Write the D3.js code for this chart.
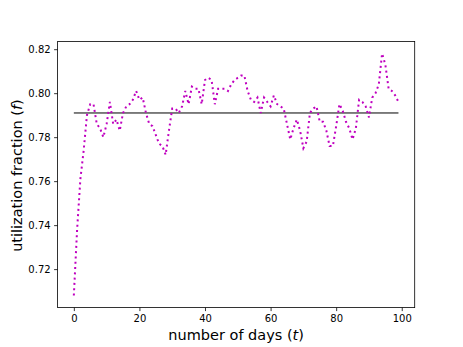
<!DOCTYPE html>
<html>
<head>
<meta charset="utf-8">
<script src="https://cdn.jsdelivr.net/npm/d3@7"></script>
<style>
  body { margin: 0; background: #fff; }
  text { font-family: "DejaVu Sans", sans-serif; fill: #000; }
</style>
</head>
<body>
<div id="chart"></div>
<script>
//data
var days = d3.range(0, 100);
var utilization = [
  0.708, 0.738, 0.761, 0.774, 0.790, 0.795, 0.795, 0.786, 0.784, 0.780,
  0.786, 0.796, 0.786, 0.788, 0.783, 0.791, 0.794, 0.795, 0.797, 0.801,
  0.797, 0.798, 0.791, 0.786, 0.785, 0.781, 0.777, 0.776, 0.772, 0.783,
  0.793, 0.793, 0.791, 0.794, 0.801, 0.795, 0.803, 0.802, 0.802, 0.795,
  0.806, 0.807, 0.806, 0.795, 0.802, 0.802, 0.802, 0.801, 0.804, 0.806,
  0.807, 0.808, 0.808, 0.801, 0.797, 0.796, 0.798, 0.791, 0.798, 0.796,
  0.794, 0.799, 0.795, 0.794, 0.793, 0.786, 0.779, 0.784, 0.788, 0.783,
  0.775, 0.778, 0.791, 0.793, 0.794, 0.787, 0.787, 0.783, 0.776, 0.776,
  0.785, 0.795, 0.792, 0.787, 0.784, 0.779, 0.784, 0.797, 0.796, 0.794,
  0.789, 0.798, 0.800, 0.804, 0.818, 0.813, 0.802, 0.801, 0.799, 0.796
];
var meanLevel = 0.791;
var xTicks = [0, 20, 40, 60, 80, 100];
var yTicks = [0.72, 0.74, 0.76, 0.78, 0.80, 0.82];

var width = 463, height = 347;
//axes box like matplotlib defaults (window.top is taken, so own names)
var axL = 57.6, axR = 414.7, axT = 41.5, axB = 307.6;

var svg = d3.select("#chart")
  .append("svg")
  .attr("width", width)
  .attr("height", height);

//5% margins around the data, the way matplotlib does it
var xExt = d3.extent(days), xPad = (xExt[1] - xExt[0]) * 0.05;
var yExt = d3.extent(utilization), yPad = (yExt[1] - yExt[0]) * 0.05;

var x = d3.scaleLinear()
  .domain([xExt[0] - xPad, xExt[1] + xPad])
  .range([axL, axR]);

var y = d3.scaleLinear()
  .domain([yExt[0] - yPad, yExt[1] + yPad])
  .range([axB, axT]);

//mean line
svg.append("line")
  .attr("x1", x(days[0]))
  .attr("x2", x(days[days.length - 1]))
  .attr("y1", y(meanLevel))
  .attr("y2", y(meanLevel))
  .attr("stroke", "#000")
  .attr("stroke-width", 1);

//dotted series
var line = d3.line()
  .x(function(d, i){ return x(days[i]); })
  .y(function(d){ return y(d); });

svg.append("path")
  .datum(utilization)
  .attr("d", line)
  .attr("fill", "none")
  .attr("stroke", "#bf00bf")
  .attr("stroke-width", 2)
  .attr("stroke-dasharray", "2,3.3");

//axes
var xAxis = svg.append("g")
  .attr("transform", "translate(0," + axB + ")")
  .call(d3.axisBottom(x).tickValues(xTicks).tickSize(3.5).tickPadding(3.5).tickFormat(d3.format("d")));

var yAxis = svg.append("g")
  .attr("transform", "translate(" + axL + ",0)")
  .call(d3.axisLeft(y).tickValues(yTicks).tickSize(3.5).tickPadding(3.5).tickFormat(d3.format(".2f")));

[xAxis, yAxis].forEach(function(g){
  g.select(".domain").remove();
  g.selectAll(".tick line").attr("stroke", "#000").attr("stroke-width", 0.8);
  g.selectAll(".tick text").attr("font-size", 10).attr("font-family", "DejaVu Sans");
});

//frame
svg.append("rect")
  .attr("x", axL)
  .attr("y", axT)
  .attr("width", axR - axL)
  .attr("height", axB - axT)
  .attr("fill", "none")
  .attr("stroke", "#000")
  .attr("stroke-width", 0.8);

//axis labels
var xl = svg.append("text")
  .attr("x", (axL + axR) / 2)
  .attr("y", 340)
  .attr("text-anchor", "middle")
  .attr("font-size", 14.5);
xl.append("tspan").text("number of days (");
xl.append("tspan").attr("font-style", "italic").text("t");
xl.append("tspan").text(")");

var yl = svg.append("text")
  .attr("transform", "translate(22," + ((axT + axB) / 2 + 1) + ") rotate(-90)")
  .attr("text-anchor", "middle")
  .attr("font-size", 14.5);
yl.append("tspan").text("utilization fraction (");
yl.append("tspan").attr("font-style", "italic").text("f");
yl.append("tspan").text(")");
</script>
</body>
</html>
